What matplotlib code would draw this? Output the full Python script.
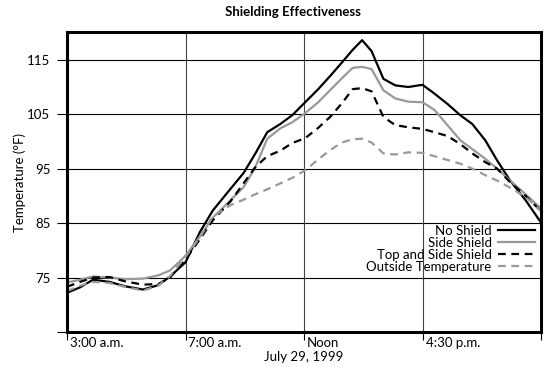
import numpy as np
import matplotlib
matplotlib.use("Agg")
import matplotlib.pyplot as plt
import matplotlib.transforms as mtransforms

# x positions in tick units (0 = 3:00 a.m., 1 = 7:00 a.m., 2 = Noon, 3 = 4:30 p.m.)
x = [0.0, 0.11, 0.22, 0.36, 0.49, 0.64, 0.77, 0.87, 1.0, 1.12, 1.23, 1.38, 1.49,
     1.59, 1.69, 1.80, 1.90, 2.01, 2.12, 2.22, 2.32, 2.41, 2.49, 2.57, 2.67, 2.77,
     2.88, 3.0, 3.1, 3.21, 3.32, 3.42, 3.53, 3.63, 3.74, 3.87, 4.0]

no_shield = [72.2, 73.2, 74.6, 74.2, 73.4, 72.8, 73.6, 75.2, 77.8, 83.3, 87.3, 91.3, 94.2,
             97.8, 101.7, 103.2, 104.8, 107.2, 109.6, 112.0, 114.5, 116.8, 118.6, 116.6, 111.5, 110.3,
             110.0, 110.4, 108.8, 106.9, 104.8, 103.2, 100.2, 96.5, 92.8, 89.2, 85.1]

side_shield = [74.1, 74.6, 75.2, 75.0, 74.7, 74.8, 75.4, 76.3, 79.0, 82.5, 86.0, 89.2, 91.6,
               95.3, 100.5, 102.4, 103.5, 105.2, 107.2, 109.4, 111.6, 113.5, 113.7, 113.3, 109.4, 107.9,
               107.3, 107.2, 105.8, 103.0, 100.2, 98.6, 96.8, 95.0, 92.8, 90.3, 87.7]

top_side = [73.3, 74.2, 75.0, 75.1, 74.3, 73.7, 73.8, 75.0, 78.3, 82.0, 85.5, 89.0, 92.3,
            95.3, 97.3, 98.3, 99.7, 100.6, 102.5, 104.5, 107.0, 109.6, 109.8, 109.2, 104.5, 103.0,
            102.6, 102.3, 101.7, 101.0, 99.5, 97.8, 96.2, 95.0, 92.5, 90.0, 87.2]

outside = [72.5, 73.5, 74.2, 74.0, 73.3, 72.6, 73.5, 75.3, 78.8, 82.3, 86.2, 88.3, 89.3,
           90.3, 91.2, 92.3, 93.3, 94.7, 96.7, 98.4, 99.8, 100.4, 100.5, 99.8, 97.8, 97.6,
           98.0, 97.9, 97.3, 96.6, 95.9, 95.0, 93.8, 92.8, 91.5, 89.8, 87.2]

tick_pos = [0, 1, 2, 3, 4]
tick_labels = ["3:00 a.m.", "7:00 a.m.", "Noon", "4:30 p.m.", ""]
y_ticks = [65, 75, 85, 95, 105, 115]
y_labels = ["", "75", "85", "95", "105", "115"]

plt.rcParams["font.family"] = ["Lato", "DejaVu Sans"]
plt.rcParams["font.size"] = 9.5

fig = plt.figure(figsize=(5.45, 3.67), dpi=100)
ax = fig.add_axes([67/545, 1-332/367, 474/545, 300/367])

gray = "#999999"
ax.plot(x, no_shield, color="black", lw=1.6, label="No Shield")
ax.plot(x, side_shield, color=gray, lw=1.6, label="Side Shield")
ax.plot(x, top_side, color="black", lw=1.6, ls=(0, (3.5, 2.5)), label="Top and Side Shield")
ax.plot(x, outside, color=gray, lw=1.6, ls=(0, (3.5, 2.5)), label="Outside Temperature")

ax.set_xlim(0, 4)
ax.set_ylim(65, 120.1)

ax.set_yticks(y_ticks)
ax.set_yticklabels(y_labels)
ax.set_xticks(tick_pos)
ax.set_xticklabels(tick_labels)

for yv in y_ticks[1:]:
    ax.axhline(yv, color="black", lw=0.8, zorder=0)
for xv in tick_pos[1:4]:
    ax.axvline(xv, color="#444444", lw=0.8, zorder=0)

ax.tick_params(axis="y", length=7, width=0.8, pad=5)
ax.tick_params(axis="x", length=6, width=0.8, pad=-2.5)
offset = mtransforms.ScaledTranslation(3/100, 0, fig.dpi_scale_trans)
for lab in ax.get_xticklabels():
    lab.set_horizontalalignment("left")
    lab.set_transform(lab.get_transform() + offset)

for sp in ax.spines.values():
    sp.set_linewidth(2.2)

ax.set_xlabel("July 29, 1999", labelpad=1.5)
ax.set_ylabel("Temperature (°F)", labelpad=1)

ax.legend(loc="lower right", bbox_to_anchor=(1.003, 0.17), frameon=False, markerfirst=False,
          labelspacing=0.0, handlelength=2.75, handletextpad=0.5, borderpad=0.1, fontsize=9.5)

fig.text(293/545, 1-12/367, "Shielding Effectiveness", ha="center", va="center",
         fontweight="bold", fontsize=9.5)

fig.savefig("out.png", dpi=100)
